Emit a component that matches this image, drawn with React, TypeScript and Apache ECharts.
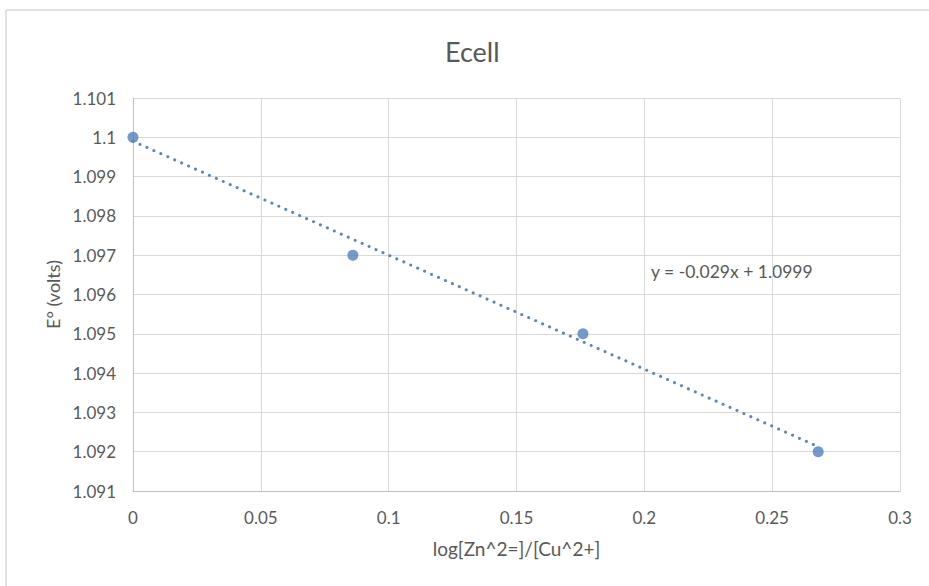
import React, { useEffect, useRef } from "react";
import * as echarts from "echarts";

const chartTitle = "Ecell";
const xAxisName = "log[Zn^2=]/[Cu^2+]";
const yAxisName = "E° (volts)";
const xValues = [0, 0.086, 0.176, 0.268];
const yValues = [1.1, 1.097, 1.095, 1.092];
const trendSlope = -0.029;
const trendIntercept = 1.0999;
const trendLabel = "y = -0.029x + 1.0999";

const FONT = "Lato, 'Open Sans', sans-serif";
const TEXT = "#595959";
const BLUE = "#4f81bd";

export default function App() {
  const ref = useRef<HTMLDivElement>(null);
  useEffect(() => {
    if (!ref.current) return;
    const chart = echarts.init(ref.current, null, { renderer: "svg" });
    const points = xValues.map((x, i) => [x, yValues[i]]);
    const xStart = xValues[0];
    const xEnd = xValues[xValues.length - 1];
    const trend = [
      [xStart, trendSlope * xStart + trendIntercept],
      [xEnd, trendSlope * xEnd + trendIntercept],
    ];
    chart.setOption({
      animation: false,
      backgroundColor: "#ffffff",
      textStyle: { fontFamily: FONT },
      title: {
        text: chartTitle,
        left: 440,
        top: 33,
        textStyle: { fontFamily: FONT, fontSize: 27, fontWeight: "normal", color: TEXT },
      },
      grid: { left: 133, right: 29, top: 98, bottom: 95, containLabel: false },
      xAxis: {
        type: "value",
        min: 0,
        max: 0.3,
        interval: 0.05,
        name: xAxisName,
        nameLocation: "middle",
        nameGap: 48,
        nameTextStyle: { fontFamily: FONT, fontSize: 19, color: TEXT },
        axisLine: { show: true, lineStyle: { color: "#bfbfbf", width: 1 } },
        axisTick: { show: false },
        axisLabel: {
          margin: 18,
          fontFamily: FONT,
          fontSize: 17,
          color: TEXT,
          formatter: (v: number) => String(parseFloat(v.toFixed(2))),
        },
        splitLine: { show: true, lineStyle: { color: "#d9d9d9", width: 1 } },
      },
      yAxis: {
        type: "value",
        min: 1.091,
        max: 1.101,
        interval: 0.001,
        name: yAxisName,
        nameLocation: "middle",
        nameGap: 58,
        nameTextStyle: { fontFamily: FONT, fontSize: 18, color: TEXT },
        axisLine: { show: true, lineStyle: { color: "#bfbfbf", width: 1 } },
        axisTick: { show: false },
        axisLabel: {
          margin: 17,
          fontFamily: FONT,
          fontSize: 17,
          color: TEXT,
          formatter: (v: number) => String(parseFloat(v.toFixed(3))),
        },
        splitLine: { show: true, lineStyle: { color: "#d9d9d9", width: 1 } },
      },
      graphic: [
        {
          type: "line",
          shape: { x1: 6, y1: 10, x2: 6, y2: 600 },
          style: { stroke: "#d9d9d9", lineWidth: 1.5 },
          silent: true,
        },
        {
          type: "line",
          shape: { x1: 6, y1: 10, x2: 940, y2: 10 },
          style: { stroke: "#d9d9d9", lineWidth: 1.5 },
          silent: true,
        },
        {
          type: "text",
          left: 651,
          top: 262,
          style: { text: trendLabel, fontFamily: FONT, fontSize: 17.5, fill: TEXT },
        },
      ],
      series: [
        {
          type: "line",
          data: trend,
          symbol: "none",
          lineStyle: { color: "#5b87b8", width: 3, type: [0.1, 7.5], cap: "round" },
          z: 2,
        },
        {
          type: "scatter",
          data: points,
          symbol: "circle",
          symbolSize: 11,
          itemStyle: { color: BLUE },
          z: 3,
        },
      ],
    });
    return () => chart.dispose();
  }, []);
  return (
    <div
      ref={ref}
      style={{ position: "fixed", left: 0, top: 0, width: 929, height: 586 }}
    />
  );
}
